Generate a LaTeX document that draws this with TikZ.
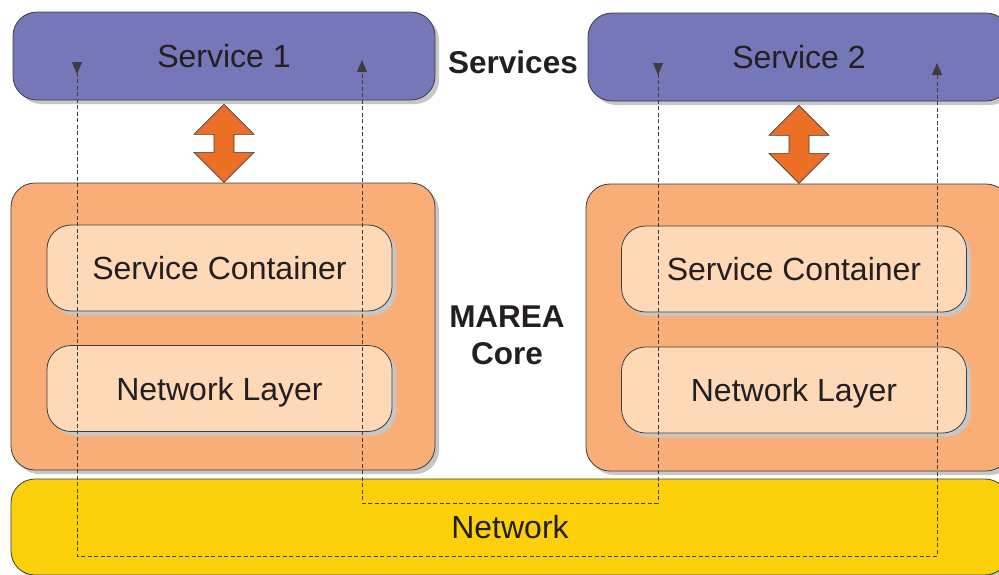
\documentclass[tikz,border=0pt]{standalone}
\usepackage{fontspec}
\setmainfont{Liberation Sans}
\usetikzlibrary{arrows.meta,calc,shadows}
\definecolor{svcblue}{HTML}{7677B8}
\definecolor{coreorange}{HTML}{F9AE78}
\definecolor{layerpeach}{HTML}{FDD9B7}
\definecolor{netyellow}{HTML}{FCD10B}
\definecolor{arroworange}{HTML}{EB7026}
\definecolor{edgegray}{HTML}{3D3D3D}
\definecolor{txtgray}{HTML}{231F20}
\tikzset{
  every node/.style={font=\fontsize{32}{37}\selectfont, text=txtgray},
  box/.style={draw=edgegray, line width=0.8pt, rounded corners=24pt, inner sep=0pt, text depth=0pt,
    drop shadow={shadow xshift=4pt, shadow yshift=-4pt, fill=black!22, opacity=1}},
  svcbox/.style={box, fill=svcblue, minimum width=422pt, minimum height=88pt},
  corebox/.style={box, fill=coreorange, minimum width=424pt, minimum height=287pt},
  layerbox/.style={box, fill=layerpeach, minimum width=345pt, minimum height=86pt},
  netbox/.style={box, fill=netyellow, minimum width=998pt, minimum height=96pt},
  heading/.style={font=\fontsize{31.5}{37}\selectfont\bfseries, align=center},
  updown/.style={fill=arroworange, draw=edgegray, line width=0.6pt},
  flow/.style={draw=edgegray, line width=0.9pt, dash pattern=on 4pt off 2.5pt,
    {Triangle[reversed,length=12pt,width=10pt]}-{Triangle[length=12pt,width=10pt]}}
}
\begin{document}
\begin{tikzpicture}[x=1pt,y=-1pt]
\useasboundingbox (0,0) rectangle (999,574);
% service layer
\node[svcbox] (svc1) at (224,56) {Service 1};
\node[svcbox] (svc2) at (799,57) {Service 2};
\node[heading] (svclabel) at (513,62) {Services};
% core with its two layers
\node[corebox] (core1) at (223,326.5) {};
\node[corebox] (core2) at (798,327.5) {};
\node[layerbox] (cont1) at (219.5,268) {Service Container};
\node[layerbox] (netl1) at (219.5,388.5) {Network Layer};
\node[layerbox] (cont2) at (794,269) {Service Container};
\node[layerbox] (netl2) at (794,390) {Network Layer};
\node[heading] (corelabel) at (507,335) {MAREA\\Core};
% network
\node[netbox] (net) at (510,527) {Network};
% up/down arrows between service and core
\foreach \s in {svc1,svc2}
  \draw[updown] ($(\s.south)+(0,4)$) -- ++(30,30) -- ++(-20,0) -- ++(0,18) -- ++(20,0)
    -- ++(-30,30) -- ++(-30,-30) -- ++(20,0) -- ++(0,-18) -- ++(-20,0) -- cycle;
% message paths through the network
\coordinate (s1out) at (77,62);
\coordinate (lowL) at (77,556);
\coordinate (lowR) at (937,556);
\coordinate (s2in) at (937,63);
\coordinate (s2out) at (658,63);
\coordinate (midR) at (658,503);
\coordinate (midL) at (362,503);
\coordinate (s1in) at (362,60);
\draw[flow] (s1out) -- (lowL) -- (lowR) -- (s2in);
\draw[flow] (s2out) -- (midR) -- (midL) -- (s1in);
\end{tikzpicture}
\end{document}
